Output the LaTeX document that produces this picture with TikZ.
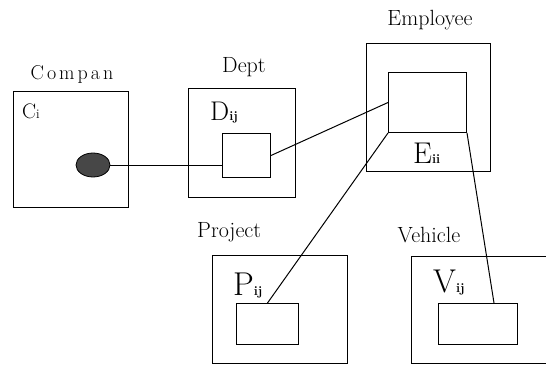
\documentclass[tikz,border=0pt]{standalone}
\usepackage{fontspec}
\usetikzlibrary{shapes.geometric,calc}

\tikzset{
  box/.style={draw, line width=1pt, inner sep=0pt, anchor=north west},
  link/.style={draw, line width=1pt},
  title/.style={inner sep=0pt, anchor=base, font=\fontsize{22}{22}\selectfont},
  ent/.style={inner sep=0pt, anchor=base west},
  blob/.style={ellipse, draw, line width=0.8pt, fill=black!72,
    minimum width=34pt, minimum height=24pt, inner sep=0pt}
}
\newcommand{\sub}[1]{{\fontsize{13}{13}\selectfont\bfseries #1}}
\newcommand{\gapped}{\hspace{3pt}}

\begin{document}
\begin{tikzpicture}[x=1pt,y=-1pt]
  \useasboundingbox (0,0) rectangle (546,364);

  % Company
  \node[box, minimum width=115pt, minimum height=116pt] (cout) at (13,91) {};
  \node[inner sep=0pt, anchor=base, font=\fontsize{20}{20}\selectfont] (ctitle) at (72,79)
    {C\gapped o\gapped m\gapped p\gapped a\gapped n};
  \node[ent] (clab) at (22,118) {\fontsize{21}{21}\selectfont C\sub{\mdseries i}};
  \node[blob] (cdot) at (93,165) {};

  % Dept
  \node[box, minimum width=107pt, minimum height=109pt] (dout) at (188,88) {};
  \node[box, minimum width=48pt, minimum height=44pt] (din) at (222,133) {};
  \node[title] (dtitle) at (244,72) {Dept};
  \node[ent] (dlab) at (210,120) {\fontsize{27}{27}\selectfont D\sub{ij}};

  % Employee
  \node[box, minimum width=124pt, minimum height=128pt] (eout) at (366,43) {};
  \node[box, minimum width=78pt, minimum height=60pt] (ein) at (388,72) {};
  \node[title] (etitle) at (430,25) {Employee};
  \node[ent] (elab) at (413,163) {\fontsize{30}{30}\selectfont E\sub{ii}};

  % Project
  \node[box, minimum width=135pt, minimum height=108pt] (pout) at (212,255) {};
  \node[box, minimum width=62pt, minimum height=41pt] (pin) at (236,303) {};
  \node[title, anchor=base west] (ptitle) at (197,237) {Project};
  \node[ent] (plab) at (233,295) {\fontsize{33}{33}\selectfont P\sub{ij}};

  % Vehicle
  \node[box, minimum width=140pt, minimum height=107pt] (vout) at (411,256) {};
  \node[box, minimum width=79pt, minimum height=41pt] (vin) at (438,303) {};
  \node[title] (vtitle) at (429,242) {Vehicle};
  \node[ent] (vlab) at (433,292) {\fontsize{33}{33}\selectfont V\sub{ij}};

  % Connectors
  \coordinate (vtop) at ($(vin.north west)!0.7!(vin.north east)$);
  \draw[link] (cdot.east) -- (cdot.east -| din.west);
  \draw[link] (din.east) -- (ein.west);
  \draw[link] (ein.south west) -- (pin.north);
  \draw[link] (ein.south east) -- (vtop);
\end{tikzpicture}
\end{document}
